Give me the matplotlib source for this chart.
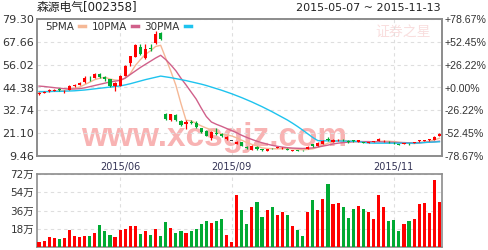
import numpy as np
import matplotlib
matplotlib.use("Agg")
import matplotlib.pyplot as plt
from matplotlib.lines import Line2D

plt.rcParams["font.family"] = ["DejaVu Sans", "Noto Sans CJK SC"]

# ---- data (one entry per trading day) ----
opens = [
    41.0, 41.8, 42.5, 42.8, 43.6, 42.4, 43.2, 45.1, 45.9, 47.0,
    49.3, 49.2, 51.4, 49.8, 48.5, 44.9, 45.3, 50.2, 56.8, 60.0,
    65.0, 59.4, 64.4, 66.9, 72.0, 30.9, 27.8, 30.4, 27.3, 25.6,
    26.8, 26.3, 23.6, 22.2, 18.6, 21.0, 20.6, 18.1, 17.1, 15.6,
    16.4, 13.9, 12.6, 14.2, 12.9, 12.0, 13.5, 13.6, 13.3, 12.9,
    12.1, 12.4, 12.5, 12.9, 15.4, 14.6, 15.6, 18.0, 16.8, 17.4,
    17.8, 17.3, 17.4, 16.8, 16.5, 16.2, 16.7, 17.1, 17.0, 16.8,
    16.2, 15.4, 15.8, 15.8, 16.1, 16.9, 17.1, 17.5, 17.6, 19.7,
]
closes = [
    41.6, 42.3, 43.3, 43.3, 43.0, 42.7, 45.1, 45.7, 46.6, 49.1,
    49.0, 51.4, 49.5, 48.8, 44.9, 46.5, 50.2, 55.3, 60.2, 66.0,
    61.3, 63.8, 64.0, 71.6, 69.0, 28.3, 30.7, 27.8, 25.3, 26.6,
    26.4, 24.2, 21.6, 19.8, 21.9, 20.6, 19.6, 19.3, 17.1, 16.8,
    14.7, 13.6, 14.6, 12.9, 12.3, 13.0, 13.3, 13.8, 13.5, 12.7,
    12.3, 12.2, 12.4, 14.2, 14.4, 16.3, 17.3, 17.8, 17.6, 17.8,
    17.4, 16.4, 17.0, 17.6, 16.3, 16.6, 17.0, 18.0, 17.1, 16.5,
    16.0, 15.2, 16.0, 15.5, 16.3, 17.6, 17.6, 18.0, 19.3, 20.7,
]
highs = [
    41.9, 42.6, 43.6, 43.6, 44.0, 43.0, 45.6, 46.0, 47.0, 50.3,
    50.3, 51.9, 51.6, 50.1, 48.8, 47.0, 50.5, 55.8, 60.6, 66.8,
    66.8, 66.8, 66.5, 73.2, 72.6, 31.2, 31.0, 30.7, 27.6, 28.0,
    27.6, 27.5, 23.9, 22.5, 22.2, 23.6, 21.2, 19.6, 17.3, 17.0,
    16.6, 14.7, 14.9, 14.4, 13.1, 13.2, 13.7, 14.2, 13.8, 13.4,
    12.6, 12.5, 12.6, 14.4, 15.6, 16.6, 17.6, 19.0, 17.9, 18.2,
    18.0, 17.5, 17.8, 17.8, 16.7, 16.8, 17.2, 18.8, 17.4, 17.0,
    16.4, 15.6, 16.2, 16.0, 16.5, 17.8, 17.8, 18.2, 19.5, 21.4,
]
lows = [
    40.7, 41.5, 42.3, 42.6, 42.8, 41.6, 42.9, 44.8, 45.6, 46.8,
    47.9, 49.0, 49.0, 47.8, 44.6, 42.4, 45.0, 50.0, 55.3, 59.8,
    60.8, 59.0, 63.0, 66.5, 68.8, 28.0, 27.5, 27.5, 25.0, 23.4,
    25.8, 23.8, 21.3, 19.5, 17.6, 20.0, 19.2, 17.6, 16.9, 15.4,
    14.4, 13.2, 12.3, 12.6, 12.0, 11.8, 13.0, 13.4, 13.1, 12.4,
    11.9, 12.0, 12.2, 12.8, 14.2, 14.4, 15.4, 17.0, 16.6, 17.2,
    17.2, 16.2, 16.8, 16.6, 16.0, 16.0, 16.5, 16.9, 16.8, 16.3,
    15.8, 15.0, 15.6, 15.3, 15.9, 16.7, 17.0, 17.3, 17.4, 19.5,
]
volumes = [  # 万
    5.3, 6.3, 10.3, 9.3, 8.0, 9.3, 16.3, 11.3, 10.3, 11.3,
    11.3, 14.3, 21.3, 15.3, 12.3, 10.3, 16.3, 17.3, 20.3, 20.3,
    13.3, 15.3, 12.3, 17.3, 11.3, 24.3, 18.3, 14.3, 15.3, 14.3,
    15.3, 17.3, 22.3, 25.3, 23.3, 25.3, 27.3, 12.3, 5.3, 51.3,
    36.3, 22.3, 39.3, 44.3, 29.3, 36.3, 39.3, 31.3, 34.3, 31.3,
    20.3, 16.3, 11.3, 34.3, 46.3, 36.3, 47.3, 62.3, 42.3, 43.3,
    39.3, 28.3, 37.3, 40.3, 37.3, 34.3, 27.3, 51.3, 39.3, 25.3,
    26.3, 15.3, 22.3, 25.3, 27.3, 42.3, 43.3, 33.3, 66.3, 44.3,
]
ma5 = [
    42.0, 42.2, 42.4, 42.6, 42.7, 42.9, 43.5, 44.0, 44.6, 45.8,
    47.1, 48.4, 49.1, 49.6, 48.7, 48.2, 48.0, 49.1, 51.4, 55.6,
    58.6, 61.3, 63.1, 65.3, 65.9, 59.3, 52.7, 45.5, 36.2, 27.7,
    27.4, 26.1, 24.8, 23.7, 22.8, 21.6, 20.7, 20.2, 19.7, 18.7,
    17.5, 16.3, 15.4, 14.5, 13.6, 13.3, 13.2, 13.1, 13.2, 13.3,
    13.1, 12.9, 12.6, 12.8, 13.1, 13.9, 14.9, 16.0, 16.7, 17.4,
    17.4, 17.2, 17.0, 16.9, 16.7, 16.6, 16.7, 16.9, 17.0, 17.0,
    16.8, 16.5, 16.2, 16.0, 15.8, 16.1, 16.6, 17.0, 17.7, 18.5,
]
ma10 = [
    45.1, 44.9, 44.6, 44.3, 44.0, 43.8, 43.6, 43.6, 43.8, 44.2,
    44.8, 45.4, 46.0, 46.6, 47.2, 47.6, 48.0, 49.2, 51.0, 52.8,
    54.6, 56.2, 57.8, 59.4, 60.8, 58.6, 55.9, 52.9, 49.1, 45.7,
    42.1, 38.5, 33.9, 29.6, 26.8, 25.6, 24.6, 23.5, 22.4, 21.3,
    20.0, 18.9, 17.9, 17.0, 16.2, 15.5, 14.9, 14.4, 14.0, 13.7,
    13.5, 13.4, 13.3, 13.4, 13.6, 14.0, 14.5, 15.0, 15.6, 16.0,
    16.3, 16.5, 16.7, 16.8, 16.8, 16.8, 16.7, 16.7, 16.6, 16.5,
    16.4, 16.3, 16.3, 16.2, 16.2, 16.3, 16.4, 16.5, 16.7, 17.0,
]
ma30 = [
    42.3, 42.3, 42.3, 42.4, 42.4, 42.5, 42.6, 42.7, 42.9, 43.1,
    43.4, 43.7, 44.0, 44.3, 44.6, 44.9, 45.2, 45.7, 46.3, 47.0,
    47.7, 48.4, 49.0, 49.6, 50.2, 49.8, 49.4, 48.9, 48.4, 47.9,
    47.3, 46.7, 46.1, 45.4, 44.6, 43.8, 43.0, 42.1, 41.2, 40.2,
    39.2, 38.1, 37.0, 35.8, 34.6, 33.3, 32.0, 30.6, 29.2, 27.8,
    26.2, 24.5, 22.7, 20.8, 18.9, 17.3, 17.2, 17.2, 17.1, 17.1,
    17.1, 17.0, 17.0, 16.8, 16.4, 16.1, 16.0, 16.0, 16.0, 16.0,
    16.0, 16.0, 16.0, 16.0, 16.0, 16.1, 16.3, 16.5, 16.6, 16.7,
]

price_ticks = [9.46, 21.10, 32.74, 44.38, 56.02, 67.66, 79.30]
price_labels = ["9.46", "21.10", "32.74", "44.38", "56.02", "67.66", "79.30"]
pct_labels = ["-78.67%", "-52.45%", "-26.22%", "+0.00%", "+26.22%", "+52.45%", "+78.67%"]
vol_ticks = [18, 36, 54, 72]
vol_labels = ["18万", "36万", "54万", "72万"]
month_pos = [16, 38, 70]
month_labels = ["2015/06", "2015/09", "2015/11"]

title = "森源电气[002358]"
date_range = "2015-05-07 ~ 2015-11-13"

# ---- style ----
RED = "#ff0000"
GREEN = "#00aa33"
DOJI = "#444444"
C5, C10, C30 = "#f5b896", "#d0608a", "#1ec3ee"
FRAME = "#8c8c8c"
GRID = "#dedede"
TXT = "#333333"

W, H = 488, 250
fig = plt.figure(figsize=(W / 100, H / 100), dpi=100)
ax = fig.add_axes([37 / W, 94 / H, 405 / W, 137 / H])
axv = fig.add_axes([37 / W, 3 / H, 405 / W, 73 / H])

o = np.array(opens)
c = np.array(closes)
x = np.arange(len(o))
up = c > o
flat = c == o
colors = np.where(up, RED, GREEN)
colors = np.where(flat, DOJI, colors)
vcolors = np.where(c >= o, RED, GREEN)

# watermarks
ax.text(0.437, 0.135, "www.xcsgjz.com", transform=ax.transAxes, ha="center", va="center",
        fontsize=24, fontweight="bold", family="Liberation Sans", color="#f8b3b3", zorder=0.5)
ax.text(0.905, 0.90, "证券之星", transform=ax.transAxes, ha="center", va="center",
        fontsize=10, family="Noto Sans CJK SC", color="#f9dede", zorder=0.5)

# moving averages
ax.plot(x, ma5, color=C5, lw=1.0, zorder=2)
ax.plot(x, ma10, color=C10, lw=1.0, zorder=2)
ax.plot(x, ma30, color=C30, lw=1.0, zorder=2)

# candles
ax.vlines(x, lows, highs, colors=colors, lw=0.9, zorder=3)
body = np.maximum(np.abs(c - o), 0.3)
ax.bar(x, body, bottom=np.minimum(o, c), width=0.62, color=colors, linewidth=0, zorder=4)

ax.set_xlim(-0.4, 79.5)
ax.set_ylim(price_ticks[0], price_ticks[-1])
ax.set_yticks(price_ticks)
ax.set_yticklabels(price_labels)
ax.set_xticks(month_pos)
ax.set_xticklabels(month_labels)
ax.tick_params(axis="y", length=0, pad=2, labelsize=8, labelcolor=TXT)
ax.tick_params(axis="x", length=0, pad=4, labelsize=7, labelcolor="#333355")
ax.grid(True, color=GRID, linestyle=(0, (3, 3)), lw=0.8, zorder=0)

ax2 = ax.twinx()
ax2.set_ylim(ax.get_ylim())
ax2.set_yticks(price_ticks)
ax2.set_yticklabels(pct_labels, family="Liberation Sans")
ax2.tick_params(axis="y", length=0, pad=1.5, labelsize=7.6, labelcolor=TXT)

for a in (ax, ax2, axv):
    for s in a.spines.values():
        s.set_color(FRAME)
        s.set_linewidth(1.2)

handles = [Line2D([], [], color=col, lw=2.5) for col in (C5, C10, C30)]
ax.legend(handles, ["5PMA", "10PMA", "30PMA"], loc="upper left", bbox_to_anchor=(0.012, 1.0),
          ncol=3, markerfirst=False, frameon=False, fontsize=7.5, handlelength=0.6,
          handletextpad=0.5, columnspacing=0.6, borderaxespad=0.1, borderpad=0.2,
          labelcolor=TXT)

# volume
axv.bar(x, volumes, width=0.62, color=vcolors, linewidth=0, zorder=3)
axv.set_xlim(-0.4, 79.5)
axv.set_ylim(0, 72)
axv.set_yticks(vol_ticks)
axv.set_yticklabels(vol_labels)
axv.set_xticks(month_pos)
axv.set_xticklabels([])
axv.tick_params(axis="y", length=0, pad=2, labelsize=7.5, labelcolor=TXT)
axv.tick_params(axis="x", length=0)
axv.grid(True, color=GRID, linestyle=(0, (3, 3)), lw=0.8, zorder=0)

fig.text(37 / W, 1 - 8 / H, title, ha="left", va="center", fontsize=8.5, color="#222222")
fig.text(441 / W, 1 - 8 / H, date_range, ha="right", va="center", fontsize=8, color="#222222")

fig.savefig("out.png", dpi=100)
